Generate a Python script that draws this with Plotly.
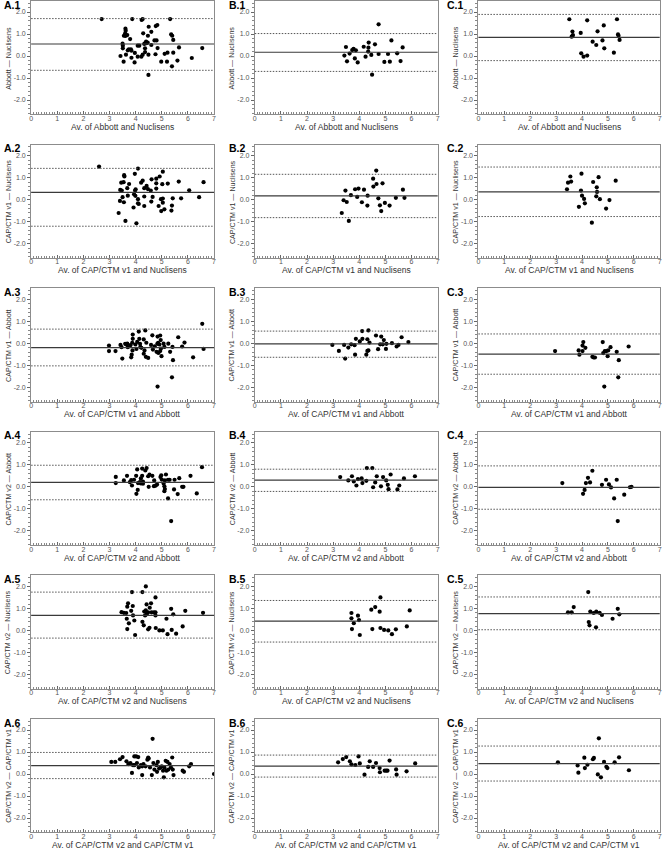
import plotly.graph_objects as go

# ---------------- data (average, difference) per panel ----------------
a1_points = [(2.70,1.68),(3.87,1.68),(4.23,1.64),(4.27,1.68),(5.32,1.68),
    (3.61,1.24),(3.62,1.15),(3.60,1.03),(3.68,0.95),(3.55,0.92),(3.61,0.91),
    (4.77,1.36),(4.83,1.41),(4.50,1.33),(4.29,1.03),(4.60,1.10),
    (5.36,0.98),(5.40,0.92),(5.44,0.73),(4.80,0.71),(4.72,0.71),(4.47,0.92),
    (3.79,0.77),(4.40,0.65),(4.36,0.58),(4.42,0.58),(4.33,0.55),(4.46,0.61),
    (3.50,0.56),(3.51,0.47),(3.51,0.35),(4.08,0.47),(4.14,0.47),(4.60,0.50),
    (4.84,0.36),(5.66,0.39),(6.55,0.36),(3.74,0.30),(3.82,0.30),(3.84,0.24),(3.70,0.26),
    (4.36,0.35),(4.36,0.18),(3.63,0.06),(3.97,0.14),(3.42,0.00),(3.84,-0.08),
    (4.08,-0.03),(4.22,-0.03),(4.27,0.06),(4.49,0.06),(4.76,0.08),(5.11,0.10),(5.22,0.15),(5.44,0.15),
    (3.54,-0.26),(3.96,-0.29),(4.98,-0.26),(5.20,-0.26),(5.60,-0.21),(6.15,-0.09),(5.39,-0.47),(4.49,-0.86)]
b1_points = [(4.74,1.44),(5.23,0.71),(5.66,0.39),(4.36,0.61),(4.60,0.53),(3.49,0.41),(4.17,0.42),
    (4.35,0.38),(3.78,0.33),(3.73,0.27),(3.87,0.26),(4.34,0.20),(4.74,0.09),(5.10,0.09),(5.45,0.12),
    (3.63,0.11),(3.43,0.02),(4.46,0.05),(4.24,-0.03),(3.83,-0.11),(3.53,-0.24),(3.94,-0.29),
    (4.96,-0.27),(5.17,-0.26),(5.58,-0.23),(4.49,-0.85)]
c1_points = [(3.51,1.67),(4.20,1.62),(5.35,1.67),(4.84,1.39),(4.60,1.12),(3.63,1.11),(3.95,1.05),
    (3.65,0.95),(3.63,0.91),(3.60,0.88),(5.39,0.98),(5.41,0.92),(5.45,0.73),(4.41,0.65),(4.79,0.71),
    (4.55,0.50),(4.86,0.35),(3.97,0.12),(5.23,0.15),(4.06,-0.03),(4.20,0.02)]
a2_points = [(2.60,1.50),(4.09,1.41),(5.04,1.27),(3.97,1.17),(3.56,1.11),(3.57,1.05),(4.92,1.05),
    (4.79,0.95),(4.61,0.92),(4.27,0.86),(5.65,0.82),(6.60,0.79),(3.45,0.77),(3.54,0.79),(3.75,0.71),
    (4.21,0.77),(5.23,0.73),(4.79,0.74),(5.02,0.70),(4.42,0.62),(3.68,0.52),(4.00,0.47),(3.98,0.41),
    (4.33,0.52),(3.41,0.44),(3.47,0.41),(4.47,0.48),(4.58,0.41),(4.79,0.50),(6.05,0.42),(3.94,0.24),
    (3.99,0.17),(3.50,0.11),(3.70,0.18),(4.09,0.02),(4.33,0.14),(4.65,0.12),(4.97,0.02),(5.04,0.05),
    (5.42,0.06),(5.74,0.06),(6.43,0.11),(3.40,-0.06),(3.55,-0.12),(4.09,-0.17),(4.12,-0.20),
    (4.60,-0.09),(5.04,-0.14),(3.92,-0.36),(4.33,-0.29),(4.88,-0.29),(5.39,-0.27),(4.98,-0.52),
    (5.10,-0.44),(5.37,-0.50),(3.35,-0.61),(3.61,-0.97),(4.03,-1.08)]
b2_points = [(4.65,1.32),(4.53,0.95),(4.66,0.71),(4.89,0.74),(4.54,0.59),(3.47,0.41),(3.84,0.47),
    (3.97,0.50),(4.18,0.45),(5.67,0.45),(3.68,0.20),(3.92,0.12),(4.32,0.18),(4.73,0.06),(5.40,0.08),
    (5.73,0.08),(3.40,-0.03),(3.52,-0.11),(4.10,-0.12),(4.31,-0.27),(4.79,-0.26),(4.98,-0.15),
    (5.16,-0.27),(4.84,-0.52),(3.33,-0.61),(3.60,-0.97)]
c2_points = [(3.98,1.18),(3.55,1.05),(3.46,0.77),(3.58,0.82),(4.43,0.80),(4.64,1.02),(5.30,0.86),
    (3.42,0.47),(3.96,0.41),(4.57,0.56),(4.58,0.35),(4.00,0.18),(4.08,0.03),(4.11,-0.17),(4.55,0.15),
    (4.69,0.02),(5.06,-0.02),(3.88,-0.33),(4.93,-0.41),(4.38,-1.05)]
a3_points = [(6.55,0.88),(6.60,-0.26),(6.20,-0.64),(5.63,0.27),(5.87,0.03),(5.78,-0.15),(5.43,-0.77),
    (5.39,-1.55),(4.84,-1.97),(5.32,-0.39),(5.41,-0.17),(5.25,-0.02),(5.10,-0.17),(5.07,-0.02),
    (4.96,0.14),(4.94,0.35),(4.84,0.30),(4.64,0.36),(4.86,0.02),(4.91,-0.06),(4.83,-0.03),(4.97,-0.24),
    (4.94,-0.36),(4.99,-0.59),(4.80,-0.39),(4.87,-0.44),(4.73,-0.14),(4.66,-0.29),(4.37,0.58),
    (4.12,0.53),(3.89,0.39),(4.31,0.17),(4.14,0.20),(4.06,0.06),(4.41,0.02),(3.89,0.20),(3.87,0.02),
    (3.99,-0.06),(4.18,-0.17),(4.22,-0.21),(4.34,-0.33),(4.39,-0.62),(4.48,-0.67),(4.31,-0.48),
    (3.88,-0.33),(3.85,-0.52),(3.83,-0.64),(3.49,-0.70),(3.64,-0.06),(3.70,-0.18),(3.60,-0.03),
    (3.68,-0.02),(3.46,-0.18),(3.42,-0.08),(3.23,-0.36),(2.98,-0.11),(2.98,-0.36),(3.80,-0.09),
    (4.59,-0.08),(4.17,-0.03),(4.03,-0.26)]
b3_points = [(2.97,-0.08),(3.22,-0.35),(3.42,-0.08),(3.46,-0.70),(3.58,-0.20),(3.69,-0.05),(3.82,-0.09),
    (3.84,-0.52),(3.87,0.20),(4.02,0.08),(4.11,0.55),(4.12,0.20),(4.27,-0.52),(4.31,0.18),(4.35,-0.33),
    (4.31,-0.35),(4.35,0.58),(4.39,0.03),(4.64,0.35),(4.72,-0.27),(4.84,0.30),(4.80,-0.05),(4.90,-0.05),
    (4.94,0.14),(5.02,-0.26),(5.04,-0.03),(5.25,0.00),(5.43,-0.15),(5.50,-0.08),(5.62,0.27),(5.88,0.05)]
c3_points = [(2.96,-0.36),(3.87,-0.33),(3.90,-0.52),(4.05,0.05),(4.02,-0.11),(4.13,-0.21),(4.02,-0.36),
    (4.40,-0.62),(4.45,-0.65),(4.50,-0.65),(4.80,0.05),(4.82,-0.45),(4.88,-0.36),(5.01,-0.33),
    (5.10,-0.18),(4.99,-0.59),(5.34,-0.39),(5.42,-0.77),(5.80,-0.15),(5.40,-1.55),(4.86,-1.97),(4.94,-0.36)]
a4_points = [(6.54,0.89),(6.34,-0.30),(6.10,0.50),(5.83,0.00),(5.78,0.00),(5.67,0.39),(5.61,-0.33),
    (5.49,0.32),(5.47,-0.12),(5.24,-0.53),(5.36,-1.56),(5.30,0.32),(5.24,0.32),(5.16,0.56),(5.12,0.29),
    (5.07,0.15),(5.10,0.02),(5.12,-0.10),(5.10,-0.20),(4.98,0.52),(4.95,0.44),(5.00,0.33),(4.82,0.10),
    (4.76,0.05),(4.70,0.03),(4.64,0.50),(4.48,0.48),(4.50,0.00),(4.37,0.74),(4.42,0.85),(4.25,0.83),
    (4.25,0.50),(4.20,0.38),(4.28,0.24),(4.20,0.15),(4.28,0.14),(4.16,0.21),(4.09,0.17),(4.06,0.79),
    (4.02,0.50),(4.03,-0.32),(4.08,-0.14),(3.94,0.32),(3.83,0.30),(3.86,0.06),(3.78,0.21),(3.67,0.50),
    (3.55,0.29),(3.24,0.45),(3.24,0.17),(4.53,0.55),(4.71,0.29)]
b4_points = [(3.27,0.44),(3.58,0.29),(3.72,0.48),(3.79,0.24),(3.89,0.06),(3.95,0.35),(4.09,0.38),
    (4.12,0.17),(4.27,0.27),(4.29,0.85),(4.50,0.85),(4.53,-0.02),(4.61,0.20),(4.67,0.48),(4.83,0.02),
    (4.91,0.44),(5.03,0.29),(5.09,0.09),(5.12,-0.11),(5.20,0.56),(5.46,-0.12),(5.53,0.06),(5.71,0.38),
    (6.13,0.48)]
c4_points = [(3.24,0.17),(4.04,-0.32),(4.10,-0.14),(4.15,0.17),(4.23,0.41),(4.31,0.20),(4.40,0.73),
    (4.77,0.09),(4.93,0.32),(5.04,0.11),(5.12,-0.03),(5.24,-0.53),(5.34,0.32),(5.38,-1.56),(5.63,-0.36),
    (5.85,-0.02),(5.91,0.00)]
a5_points = [(4.39,2.00),(3.86,1.74),(4.26,1.74),(4.76,1.50),(3.71,1.23),(3.89,1.11),(3.68,1.08),
    (4.42,1.18),(4.59,1.23),(4.54,1.03),(4.39,0.91),(4.33,0.86),(4.48,0.82),(4.70,0.82),(4.76,0.82),
    (4.61,0.82),(3.46,0.83),(3.55,0.80),(3.64,0.79),(3.83,0.89),(5.36,0.98),(5.90,0.89),(6.58,0.80),
    (5.44,0.73),(4.42,0.73),(4.36,0.68),(4.76,0.68),(3.90,0.68),(3.66,0.53),(3.95,0.45),(5.18,0.53),
    (4.26,0.39),(3.74,0.32),(4.31,0.23),(4.53,0.12),(4.48,0.05),(4.77,0.11),(4.91,0.00),(5.04,0.00),
    (3.68,0.06),(5.22,-0.17),(5.38,0.02),(5.55,-0.15),(5.80,0.18),(3.98,-0.21)]
b5_points = [(4.81,1.50),(4.61,1.06),(4.46,0.94),(4.78,0.85),(5.93,0.91),(3.70,0.79),(3.95,0.67),
    (3.70,0.55),(3.99,0.47),(3.79,0.33),(3.72,0.06),(4.02,-0.21),(4.50,0.06),(4.81,0.11),(4.95,0.02),
    (5.11,0.00),(5.25,-0.17),(5.40,0.05),(5.82,0.18)]
c5_points = [(4.24,1.74),(3.68,1.06),(3.46,0.82),(3.60,0.82),(4.32,0.86),(4.45,0.79),(4.55,0.85),
    (4.68,0.80),(4.77,0.70),(5.38,0.98),(5.44,0.73),(5.18,0.53),(4.26,0.38),(4.29,0.23),(4.54,0.14)]
a6_points = [(3.07,0.55),(3.22,0.55),(3.40,0.67),(3.50,0.77),(3.65,0.58),(3.72,0.45),(3.80,0.50),
    (3.86,0.05),(3.90,0.40),(3.95,0.80),(4.02,0.80),(4.05,0.50),(4.10,0.77),(4.12,0.30),(4.20,0.40),
    (4.25,-0.05),(4.30,0.45),(4.38,0.35),(4.45,0.65),(4.48,0.75),(4.50,0.70),(4.55,0.30),(4.62,-0.05),
    (4.65,1.60),(4.68,0.50),(4.72,0.20),(4.80,0.40),(4.82,0.10),(4.85,0.55),(4.90,0.25),(4.95,0.30),
    (5.00,0.35),(5.05,0.15),(5.08,-0.15),(5.10,0.30),(5.15,0.60),(5.18,0.15),(5.22,0.55),(5.25,0.20),
    (5.30,0.45),(5.35,0.30),(5.40,0.75),(5.42,0.20),(5.45,-0.05),(5.80,0.15),(5.85,0.10),(6.05,0.35),
    (6.12,0.45),(7.00,0.00),(3.95,0.40),(4.25,0.35)]
b6_points = [(3.19,0.53),(3.37,0.68),(3.50,0.77),(3.64,0.58),(3.70,0.44),(3.85,0.41),(3.97,0.80),
    (4.02,0.48),(4.20,-0.03),(4.34,0.32),(4.40,0.58),(4.53,0.32),(4.64,0.50),(4.78,0.27),(4.79,0.08),
    (4.97,0.15),(5.03,0.15),(5.08,0.15),(5.16,0.61),(5.41,0.21),(5.43,-0.03),(5.81,0.12),(6.14,0.48)]
c6_points = [(4.65,1.62),(3.07,0.53),(3.83,0.39),(3.86,0.06),(4.09,0.74),(4.11,0.27),(4.21,0.42),
    (4.42,0.67),(4.46,0.73),(4.61,-0.02),(4.85,0.55),(4.94,0.33),(4.98,0.27),(4.73,-0.15),(5.26,0.53),
    (5.43,0.76),(5.81,0.17)]

# (mean difference, lower limit, upper limit) per panel
a1_lines = (0.545, -0.65, 1.70); b1_lines = (0.17, -0.70, 1.02); c1_lines = (0.85, -0.21, 1.89)
a2_lines = (0.33, -1.21, 1.42);  b2_lines = (0.17, -0.82, 1.15); c2_lines = (0.35, -0.77, 1.48)
a3_lines = (-0.20, -1.03, 0.64); b3_lines = (-0.03, -0.64, 0.55); c3_lines = (-0.50, -1.41, 0.42)
a4_lines = (0.20, -0.59, 0.98);  b4_lines = (0.30, -0.21, 0.80); c4_lines = (-0.03, -1.02, 0.95)
a5_lines = (0.68, -0.35, 1.74);  b5_lines = (0.42, -0.53, 1.36); c5_lines = (0.76, 0.03, 1.52)
a6_lines = (0.38, -0.21, 0.98);  b6_lines = (0.36, -0.14, 0.86); c6_lines = (0.47, -0.32, 1.27)

y_titles = ["Abbott \u2014 Nuclisens", "CAP/CTM v1 \u2014 Nuclisens", "CAP/CTM v1 \u2014 Abbott",
            "CAP/CTM v2 \u2014 Abbott", "CAP/CTM v2 \u2014 Nuclisens", "CAP/CTM v2 \u2014 CAP/CTM v1"]
x_titles = ["Av. of Abbott and Nuclisens", "Av. of CAP/CTM v1 and Nuclisens", "Av. of CAP/CTM v1 and Abbott",
            "Av. of CAP/CTM v2 and Abbott", "Av. of CAP/CTM v2 and Nuclisens", "Av. of CAP/CTM v2 and CAP/CTM v1"]
col_letters = ["A", "B", "C"]
x_tick_vals = [0, 1, 2, 3, 4, 5, 6, 7]
y_tick_vals = [-2, -1, 0, 1, 2]
y_tick_text = ["-2.0", "-1.0", "0.0", "1.0", "2.0"]

grid_points = [[a1_points, b1_points, c1_points], [a2_points, b2_points, c2_points],
               [a3_points, b3_points, c3_points], [a4_points, b4_points, c4_points],
               [a5_points, b5_points, c5_points], [a6_points, b6_points, c6_points]]
grid_lines = [[a1_lines, b1_lines, c1_lines], [a2_lines, b2_lines, c2_lines],
              [a3_lines, b3_lines, c3_lines], [a4_lines, b4_lines, c4_lines],
              [a5_lines, b5_lines, c5_lines], [a6_lines, b6_lines, c6_lines]]

# ---------------- layout geometry (pixels) ----------------
W, H = 664, 850
col_l = [29.3, 254.3, 479.3]
col_r = [213.3, 438.3, 661.7]
label_x = [0.5, 226.0, 445.5]
ppu = 22.0
y_lo, y_hi = -2.65, 2.5
zero0, pitch = 56.0, 143.6
FONT = "Liberation Sans, Arial, sans-serif"

fig = go.Figure()
annotations = []
shapes = []
layout_axes = {}

def py(p):
    return 1 - p / H

n = 0
for r in range(6):
    zero = zero0 + pitch * r
    top = zero - y_hi * ppu
    bot = zero - y_lo * ppu
    for c in range(3):
        n += 1
        xs = "" if n == 1 else str(n)
        pts = grid_points[r][c]
        fig.add_trace(go.Scatter(x=[p[0] for p in pts], y=[p[1] for p in pts], mode="markers",
                                 marker=dict(size=4.2, color="black"), xaxis="x" + xs, yaxis="y" + xs,
                                 showlegend=False, hoverinfo="x+y"))
        layout_axes["xaxis" + xs] = dict(
            domain=[col_l[c] / W, col_r[c] / W], anchor="y" + xs, range=[0, 7],
            tickvals=x_tick_vals, ticks="inside", ticklen=3, tickwidth=1, tickcolor="#666",
            ticklabelstandoff=-3,
            showline=True, linecolor="#8c8c8c", linewidth=1, mirror=True,
            showgrid=False, zeroline=False, tickfont=dict(family=FONT, size=7, color="#555"),
            minor=dict(ticks="inside", ticklen=2, dtick=0.1, tick0=0, tickcolor="#888", showgrid=False))
        layout_axes["yaxis" + xs] = dict(
            domain=[py(bot), py(top)], anchor="x" + xs, range=[y_lo, y_hi],
            tickvals=y_tick_vals, ticktext=y_tick_text, ticks="outside", ticklen=3, tickwidth=1,
            tickcolor="#666", showline=True, linecolor="#8c8c8c", linewidth=1, mirror=True,
            showgrid=False, zeroline=False, tickfont=dict(family=FONT, size=7, color="#555"),
            minor=dict(ticks="outside", ticklen=2, dtick=0.2, tick0=0, tickcolor="#888", showgrid=False))
        mean, lower, upper = grid_lines[r][c]
        shapes.append(dict(type="line", xref="x" + xs + " domain", yref="y" + xs, x0=0, x1=1,
                           y0=mean, y1=mean, line=dict(color="#3a3a3a", width=1.2)))
        for v in (lower, upper):
            shapes.append(dict(type="line", xref="x" + xs + " domain", yref="y" + xs, x0=0, x1=1,
                               y0=v, y1=v, line=dict(color="#555", width=1, dash="1.5px,1.5px")))
        # panel label
        lab_y = top + 3.5 if r > 0 else 5.5
        annotations.append(dict(text="<b>%s.%d</b>" % (col_letters[c], r + 1), x=label_x[c] / W,
                                y=py(lab_y), xref="paper", yref="paper", xanchor="left", yanchor="middle",
                                showarrow=False, font=dict(family=FONT, size=10.5, color="black")))
        # y title
        annotations.append(dict(text=y_titles[r], x=(col_l[c] - 22.5) / W, y=py(zero + 2),
                                xref="paper", yref="paper", xanchor="center", yanchor="middle",
                                textangle=-90, showarrow=False,
                                font=dict(family=FONT, size=7.1, color="#333")))
        # x title
        annotations.append(dict(text=x_titles[r], x=(col_l[c] + col_r[c]) / 2 / W, y=py(bot + 12.5),
                                xref="paper", yref="paper", xanchor="center", yanchor="middle",
                                showarrow=False, font=dict(family=FONT, size=8.5, color="#333")))

fig.update_layout(width=W, height=H, margin=dict(l=0, r=0, t=0, b=0), paper_bgcolor="white",
                  plot_bgcolor="white", annotations=annotations, shapes=shapes, showlegend=False,
                  **layout_axes)

fig.write_html("out.html", config={"displayModeBar": False},
               post_script="document.body.style.margin='0';")
